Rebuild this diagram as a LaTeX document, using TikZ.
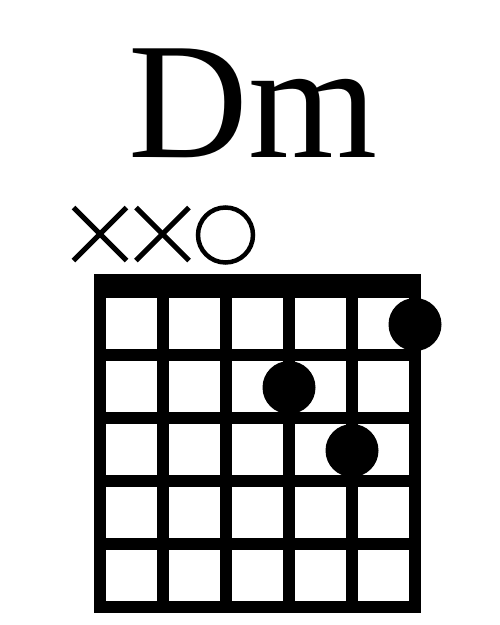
\documentclass[tikz,border=0pt]{standalone}
\usepackage{fontspec}
\setmainfont{Liberation Serif}
\begin{document}
\begin{tikzpicture}[x=1pt,y=-1pt,
  gridline/.style={line width=11.5pt},
  fingerdot/.style={fill=black},
  mutemark/.style={line width=5pt},
  openmark/.style={line width=4.5pt}]
\useasboundingbox (0,0) rectangle (500,625);
\fill[white] (0,0) rectangle (500,625);
\node[anchor=base, inner sep=0pt, font=\fontsize{166}{166}\selectfont] (title) at (253,157.3) {Dm};
% nut
\fill (94,274) rectangle (420.75,297.7);
% strings
\foreach \i in {0,...,5} \draw[gridline] (100+63*\i,274) -- (100+63*\i,613.25);
% frets
\foreach \j in {1,...,5} \draw[gridline] (94.25,292+63*\j) -- (420.75,292+63*\j);
% finger dots
\fill[fingerdot] (415,324.5) circle[radius=26.5];
\fill[fingerdot] (289,387.5) circle[radius=26.5];
\fill[fingerdot] (352,450.5) circle[radius=26.5];
% muted strings
\foreach \cx in {100,162.5} {
  \draw[mutemark] (\cx-26.5,207.5) -- (\cx+26.5,260.5);
  \draw[mutemark] (\cx-26.5,260.5) -- (\cx+26.5,207.5);
}
% open string
\draw[openmark] (225.5,235) circle[radius=27.5];
\end{tikzpicture}
\end{document}
